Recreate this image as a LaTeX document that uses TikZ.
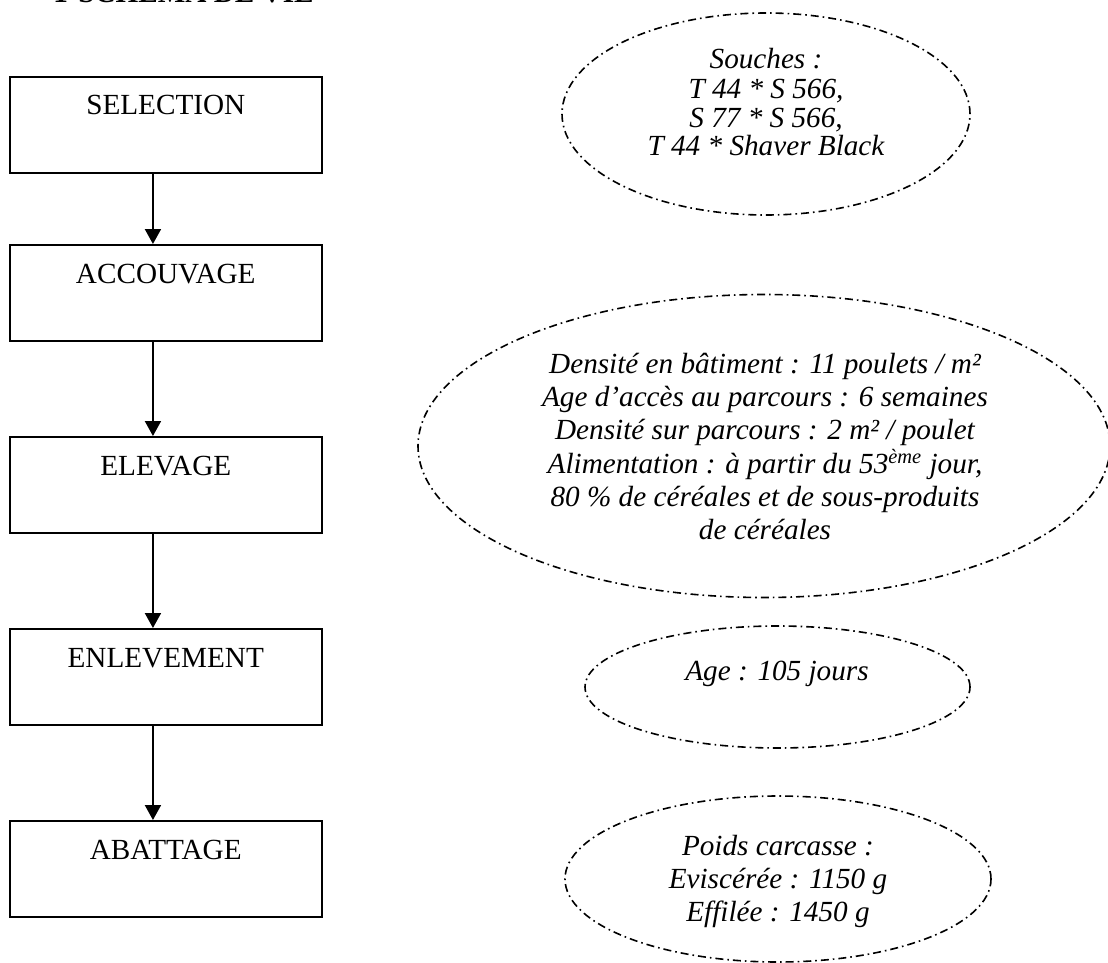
\documentclass[tikz,border=0pt]{standalone}
\usepackage{fontspec}
\setmainfont{Liberation Serif}
\usetikzlibrary{shapes.geometric,arrows.meta}
\begin{document}
\begin{tikzpicture}[x=0.5pt,y=-0.5pt,
  stepbox/.style={draw,line width=1pt,rectangle,inner xsep=0pt,inner ysep=0pt,
    minimum width=156.25pt,text height=19pt,text depth=29pt,
    font=\fontsize{14.6}{17}\selectfont},
  flow/.style={line width=1pt,-{Triangle[width=8pt,length=7.5pt]}},
  note/.style={draw,ellipse,line width=0.8pt,
    dash pattern=on 4pt off 2pt on 0.8pt off 2pt,inner sep=0pt},
  notetext/.style={anchor=base,inner sep=0pt}
]
\useasboundingbox (0,0) rectangle (1108,963);

% title (cut by the top edge)
\node[anchor=base west,inner sep=0pt,font=\bfseries\fontsize{14.6}{17}\selectfont]
  (title) at (53,3) {1\kern5.2pt SCHEMA DE VIE};

% steps
\node[stepbox,anchor=north] (sel) at (165.75,75.7) {SELECTION};
\node[stepbox,anchor=north] (acc) at (165.75,244) {ACCOUVAGE};
\node[stepbox,anchor=north] (ele) at (165.75,436) {ELEVAGE};
\node[stepbox,anchor=north] (enl) at (165.75,628) {ENLEVEMENT};
\node[stepbox,anchor=north] (aba) at (165.75,820) {ABATTAGE};

\draw[flow] ([xshift=-6.4pt]sel.south) -- ([xshift=-6.4pt]acc.north);
\draw[flow] ([xshift=-6.4pt]acc.south) -- ([xshift=-6.4pt]ele.north);
\draw[flow] ([xshift=-6.4pt]ele.south) -- ([xshift=-6.4pt]enl.north);
\draw[flow] ([xshift=-6.4pt]enl.south) -- ([xshift=-6.4pt]aba.north);

% notes
\node[note,minimum width=204pt,minimum height=101pt] (e1) at (766,114) {};
\node[notetext,font=\itshape\fontsize{14.6}{14.5}\selectfont] (t1) at (766,69)
  {\begin{tabular}[t]{@{}c@{}}Souches :\\T 44 * S 566,\\S 77 * S 566,\\T 44 * Shaver Black\end{tabular}};

\node[note,minimum width=346pt,minimum height=151.5pt] (e2) at (764,446) {};
\node[notetext,font=\itshape\fontsize{14.6}{16.5}\selectfont] (t2) at (765,373)
  {\begin{tabular}[t]{@{}c@{}}Densité en bâtiment : 11 poulets / m²\\
   Age d’accès au parcours : 6 semaines\\
   Densité sur parcours : 2 m² / poulet\\
   Alimentation : à partir du 53\textsuperscript{ème} jour,\\
   80 \% de céréales et de sous-produits\\
   de céréales\end{tabular}};

\node[note,minimum width=192.5pt,minimum height=61pt] (e3) at (777.5,687) {};
\node[notetext,font=\itshape\fontsize{14.6}{16.5}\selectfont] (t3) at (777,680)
  {Age : 105 jours};

\node[note,minimum width=213pt,minimum height=83pt] (e4) at (778,879) {};
\node[notetext,font=\itshape\fontsize{14.6}{16.5}\selectfont] (t4) at (778,855)
  {\begin{tabular}[t]{@{}c@{}}Poids carcasse :\\Eviscérée : 1150 g\\Effilée : 1450 g\end{tabular}};
\end{tikzpicture}
\end{document}
